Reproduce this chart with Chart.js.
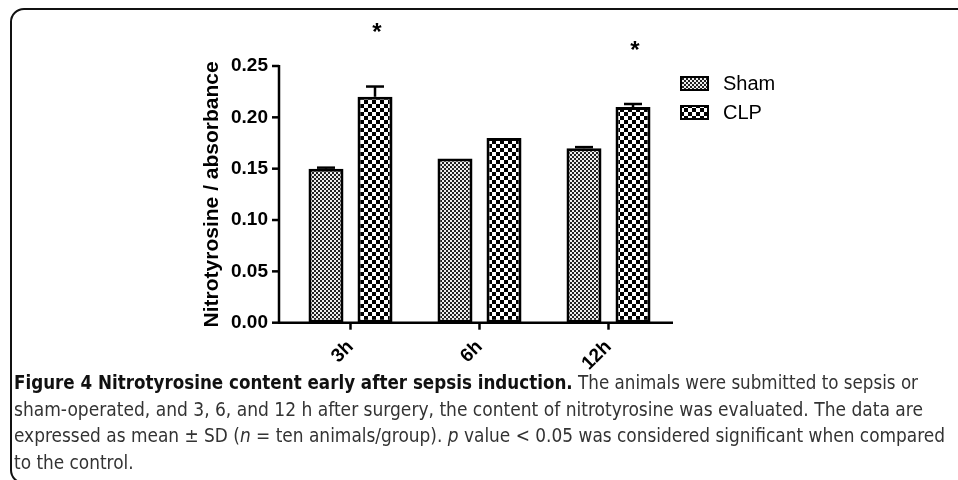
<!DOCTYPE html>
<html>
<head>
<meta charset="utf-8">
<title>Figure 4 Nitrotyrosine content</title>
<script src="https://cdn.jsdelivr.net/npm/chart.js@4.4.0/dist/chart.umd.min.js"></script>
<style>
  body { margin: 0; width: 958px; height: 480px; overflow: hidden; background: #fff; position: relative; }
  #frame { position: absolute; left: 10px; top: 8px; width: 990px; height: 476px; border: 2px solid #111; border-radius: 14px; box-sizing: border-box; }
  #chartBox { position: absolute; left: 0; top: 0; width: 958px; height: 372px; }
  #caption { position: absolute; left: 14px; top: 369px; font-family: "Liberation Sans Narrow", "DejaVu Sans Condensed", "Open Sans", sans-serif; font-size: 19px; line-height: 26.7px; color: #333; }
  #caption .line { display: block; width: max-content; white-space: nowrap; transform-origin: left top; }
  #caption b { color: #111; }
</style>
</head>
<body>
<div id="frame"></div>
<div id="chartBox"><canvas id="nitroChart" width="958" height="372"></canvas></div>
<div id="caption">
  <span class="line" data-end="918"><b>Figure 4 Nitrotyrosine content early after sepsis induction.</b> The animals were submitted to sepsis or</span>
  <span class="line" data-end="923">sham-operated, and 3, 6, and 12 h after surgery, the content of nitrotyrosine was evaluated. The data are</span>
  <span class="line" data-end="945">expressed as mean ± SD (<i>n</i> = ten animals/group). <i>p</i> value &lt; 0.05 was considered significant when compared</span>
  <span class="line">to the control.</span>
</div>

<script>
  // data
  const timePoints = ['3h', '6h', '12h']
  const seriesNames = ['Sham', 'CLP']
  const shamMean = [0.15, 0.16, 0.17]
  const shamSD = [0.001, 0, 0.001]
  const clpMean = [0.22, 0.18, 0.21]
  const clpSD = [0.01, 0, 0.003]
  const clpSignif = ['*', '', '*']
  const yTicks = [0, 0.05, 0.10, 0.15, 0.20, 0.25]

  const means = [shamMean, clpMean]
  const sds = [shamSD, clpSD]
  const marks = [['', '', ''], clpSignif]

  function checker(cell, dark, light) {
    let c = document.createElement('canvas')
    c.width = c.height = cell * 2
    let g = c.getContext('2d')
    g.fillStyle = light
    g.fillRect(0, 0, cell * 2, cell * 2)
    g.fillStyle = dark
    g.fillRect(0, 0, cell, cell)
    g.fillRect(cell, cell, cell, cell)
    return g.createPattern(c, 'repeat')
  }

  const fills = [checker(2, '#222', '#eee'), checker(4, '#000', '#fff')]
  const tickFont = { family: 'Liberation Sans, Arial, sans-serif', weight: 'bold', size: 19 }

  const extras = {
    id: 'extras',
    afterDatasetsDraw(chart) {
      const { ctx, chartArea: a, scales: { x, y } } = chart
      const ax = a.left - 7
      const line = (x1, y1, x2, y2) => { ctx.beginPath(); ctx.moveTo(x1, y1); ctx.lineTo(x2, y2); ctx.stroke() }
      ctx.save()
      ctx.strokeStyle = '#000'
      ctx.lineWidth = 2.5
      ctx.lineCap = 'butt'

      // axes + tick marks
      line(ax, y.getPixelForValue(yTicks[yTicks.length - 1]) - 1, ax, a.bottom)
      line(ax - 1, a.bottom, a.right, a.bottom)
      yTicks.forEach(v => { let py = y.getPixelForValue(v); line(ax - 7, py, ax, py) })
      timePoints.forEach((t, i) => { let px = x.getPixelForValue(i); line(px, a.bottom, px, a.bottom + 7) })

      // error bars and significance marks
      ctx.fillStyle = '#000'
      ctx.font = 'bold 24px Liberation Sans, Arial, sans-serif'
      ctx.textAlign = 'center'
      ctx.textBaseline = 'middle'
      means.forEach((m, d) => {
        chart.getDatasetMeta(d).data.forEach((bar, i) => {
          let top = y.getPixelForValue(m[i] + sds[d][i])
          if (sds[d][i]) {
            line(bar.x, bar.y, bar.x, top)
            line(bar.x - 9, top, bar.x + 9, top)
          }
          if (marks[d][i]) ctx.fillText(marks[d][i], bar.x + 2, top - 53)
        })
      })

      // legend
      ctx.font = '20px Liberation Sans, Arial, sans-serif'
      ctx.textAlign = 'left'
      ctx.lineWidth = 2
      seriesNames.forEach((name, d) => {
        let lx = a.right + 7, ly = 76 + d * 29
        ctx.fillStyle = fills[d]
        ctx.fillRect(lx, ly, 29, 15)
        ctx.strokeRect(lx + 1, ly + 1, 27, 13)
        ctx.fillStyle = '#000'
        ctx.fillText(name, lx + 43, ly + 8)
      })
      ctx.restore()
    }
  }

  new Chart(document.getElementById('nitroChart'), {
    type: 'bar',
    data: {
      labels: timePoints,
      datasets: seriesNames.map((name, d) => ({
        label: name,
        data: means[d],
        backgroundColor: fills[d],
        borderColor: '#000',
        borderWidth: 3,
        borderSkipped: false,
        categoryPercentage: 0.76,
        barPercentage: 0.714
      }))
    },
    options: {
      responsive: false,
      animation: false,
      layout: { padding: { left: 190, right: 285, top: 66, bottom: 0 } },
      plugins: { legend: { display: false }, tooltip: { enabled: false } },
      scales: {
        x: {
          grid: { display: false },
          border: { display: false },
          ticks: { color: '#000', font: tickFont, minRotation: 45, maxRotation: 45, padding: 5 },
          afterFit(s) { s.height = 49.3 }
        },
        y: {
          min: 0,
          max: 0.25,
          grid: { display: false },
          border: { display: false },
          afterBuildTicks(s) { s.ticks = yTicks.map(v => ({ value: v })) },
          ticks: { color: '#000', font: tickFont, padding: 10, callback: v => v.toFixed(2) },
          title: {
            display: true,
            text: 'Nitrotyrosine / absorbance',
            color: '#000',
            font: { family: 'Liberation Sans, Arial, sans-serif', weight: 'bold', size: 21 },
            padding: { top: 10, bottom: 0 }
          },
          afterFit(s) { s.width = 96 }
        }
      }
    },
    plugins: [extras]
  })

  // squeeze each caption line to the width it has in the figure;
  // a line without a set end gets the average squeeze
  let lines = [...document.querySelectorAll('#caption .line')]
  let scales = []
  lines.forEach(el => {
    if (!el.dataset.end) return
    let k = (+el.dataset.end - 14) / el.getBoundingClientRect().width
    scales.push(k)
    el.style.transform = 'scaleX(' + k.toFixed(4) + ')'
  })
  let avg = scales.reduce((s, k) => s + k, 0) / scales.length
  lines.forEach(el => { if (!el.dataset.end) el.style.transform = 'scaleX(' + avg.toFixed(4) + ')' })
</script>
</body>
</html>
